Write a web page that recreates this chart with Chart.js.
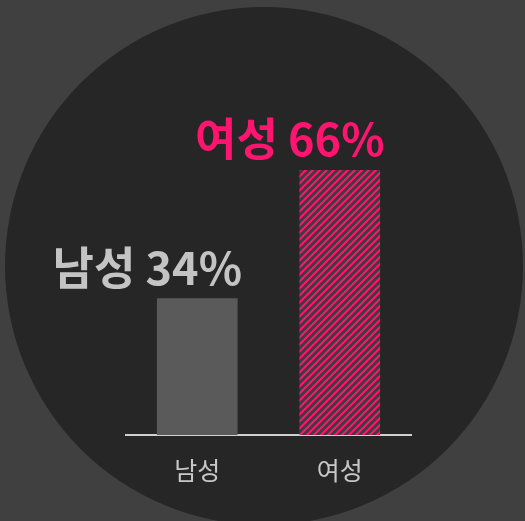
<!DOCTYPE html>
<html>
<head>
<meta charset="utf-8">
<script src="https://cdn.jsdelivr.net/npm/chart.js@4/dist/chart.umd.min.js"></script>
<style>
  html, body { margin: 0; padding: 0; background: #404040; }
  #wrap { width: 525px; height: 521px; }
</style>
</head>
<body>
<div id="wrap"><canvas id="gender-chart" width="525" height="521"></canvas></div>
<script>
var categories = ['남성', '여성'];
var shares = [34, 66];
var valueLabels = ['남성 34%', '여성 66%'];
var labelColors = ['#c4c4c4', '#ff1470'];

var koreanFont = '"Noto Sans CJK KR", "Noto Sans", sans-serif';

// diagonal stripes for the highlighted bar
var makeHatch = function() {
    var size = 7;
    var c = document.createElement('canvas');
    c.width = size;
    c.height = size;
    var g = c.getContext('2d');
    g.fillStyle = '#3c3c3c';
    g.fillRect(0, 0, size, size);
    g.strokeStyle = '#ff1470';
    g.lineWidth = 2.2;
    g.beginPath();
    g.moveTo(-1, size + 1); g.lineTo(size + 1, -1);
    g.moveTo(-1, 1); g.lineTo(1, -1);
    g.moveTo(size - 1, size + 1); g.lineTo(size + 1, size - 1);
    g.stroke();
    return g.createPattern(c, 'repeat');
}

var ctx = document.getElementById('gender-chart').getContext('2d');

var backdrop = {
    id: 'backdrop',
    beforeDraw: function(chart) {
        var c = chart.ctx;
        c.save();
        c.fillStyle = '#404040';
        c.fillRect(0, 0, chart.width, chart.height);
        c.fillStyle = '#262626';
        c.beginPath();
        c.arc(264, 266, 259, 0, Math.PI * 2);
        c.fill();
        c.restore();
    }
};

var valueText = {
    id: 'valueText',
    afterDatasetsDraw: function(chart) {
        var c = chart.ctx;
        var bars = chart.getDatasetMeta(0).data;
        c.save();
        c.font = 'bold 45px ' + koreanFont;
        c.textAlign = 'center';
        c.textBaseline = 'alphabetic';
        for (var i = 0; i < bars.length; i++) {
            c.fillStyle = labelColors[i];
            c.fillText(valueLabels[i], bars[i].x - 50, bars[i].y - 14);
        }
        c.restore();
    }
};

new Chart(ctx, {
    type: 'bar',
    data: {
        labels: categories,
        datasets: [{
            data: shares,
            backgroundColor: ['#5a5a5a', makeHatch()],
            borderWidth: 0,
            barThickness: 80
        }]
    },
    options: {
        responsive: false,
        animation: false,
        layout: { padding: { left: 126, right: 114, top: 34, bottom: 16 } },
        plugins: { legend: { display: false }, tooltip: { enabled: false } },
        scales: {
            y: { display: false, min: 0, max: 100 },
            x: {
                grid: { display: false, drawTicks: false },
                border: { display: true, color: '#d0d0d0', width: 2 },
                ticks: { color: '#c8c8c8', padding: 20, font: { family: koreanFont, size: 25 } }
            }
        }
    },
    plugins: [backdrop, valueText]
});
</script>
</body>
</html>
